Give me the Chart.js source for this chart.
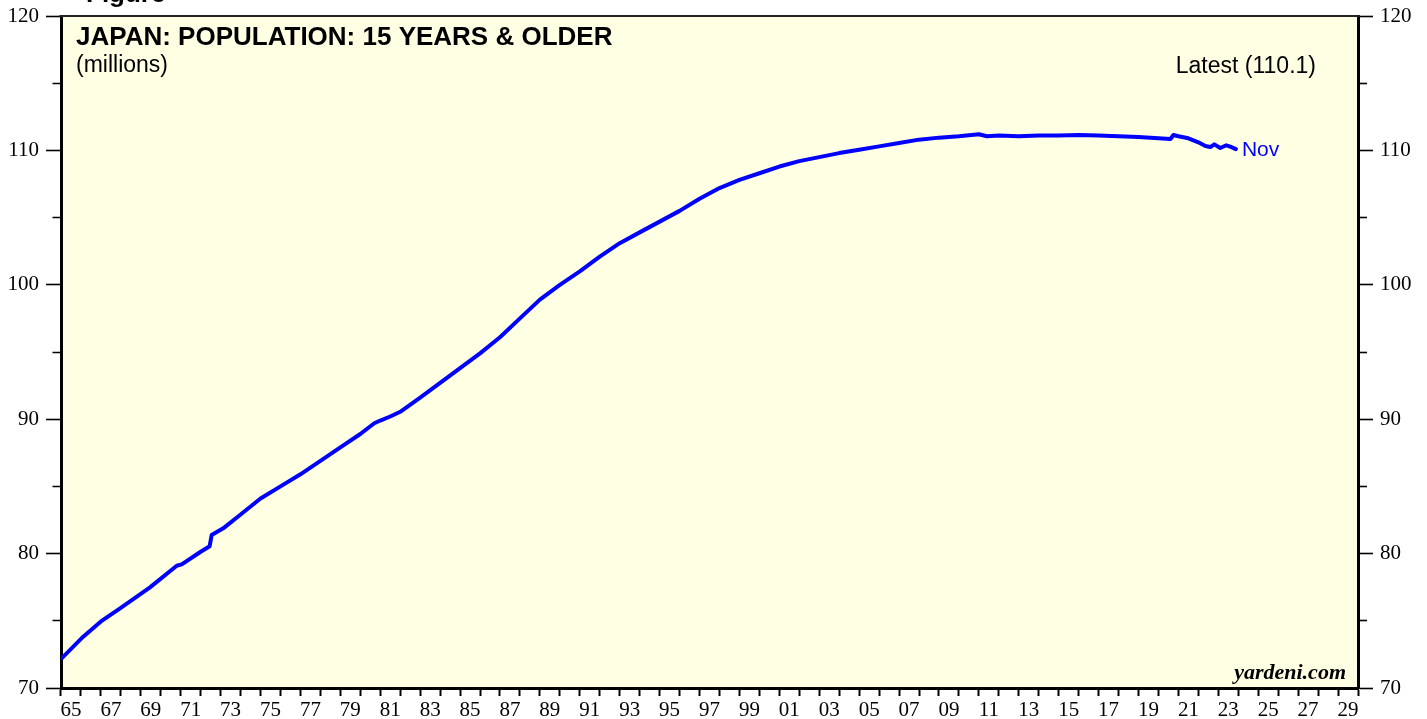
<!DOCTYPE html>
<html>
<head>
<meta charset="utf-8">
<script src="https://cdn.jsdelivr.net/npm/chart.js@4.4.1/dist/chart.umd.min.js"></script>
<style>
html,body{margin:0;padding:0;background:#ffffff;}
#wrap{width:1427px;height:719px;position:relative;}
canvas{display:block;}
</style>
</head>
<body>
<div id="wrap"><canvas id="c" width="1427" height="719"></canvas></div>
<script>
// ---- data ----
const years = [
  1965.03, 1966.1, 1967.0, 1967.96, 1969.46, 1970.8, 1971.05, 1972.0, 1972.45, 1972.55,
  1973.13, 1973.97, 1975.0, 1976.0, 1977.0, 1978.0, 1979.0, 1980.0, 1980.7, 1981.0,
  1981.5, 1982.0, 1983.0, 1984.0, 1985.0, 1986.0, 1987.0, 1988.0, 1989.0, 1990.0,
  1991.0, 1992.0, 1993.0, 1994.0, 1995.0, 1996.0, 1997.0, 1998.0, 1999.0, 2000.0,
  2001.0, 2002.0, 2003.0, 2004.0, 2005.0, 2006.0, 2007.0, 2008.0, 2009.0, 2010.0,
  2011.0, 2011.4, 2012.0, 2013.0, 2014.0, 2015.0, 2016.0, 2017.0, 2018.0, 2019.0,
  2020.0, 2020.6, 2020.75, 2021.0, 2021.5, 2022.0, 2022.35, 2022.6, 2022.8, 2023.1,
  2023.4, 2023.6, 2023.88
];
const population = [
  72.2, 73.8, 74.95, 75.93, 77.49, 79.1, 79.2, 80.14, 80.55, 81.38,
  81.88, 82.87, 84.1, 85.0, 85.9, 86.9, 87.9, 88.9, 89.7, 89.9,
  90.2, 90.55, 91.6, 92.7, 93.8, 94.9, 96.1, 97.5, 98.9, 100.0,
  101.0, 102.1, 103.1, 103.9, 104.7, 105.5, 106.4, 107.2, 107.8, 108.3,
  108.8, 109.2, 109.5, 109.8, 110.05, 110.3, 110.55, 110.8, 110.95, 111.05,
  111.2, 111.05, 111.1, 111.05, 111.1, 111.1, 111.15, 111.1, 111.05, 111.0,
  110.9, 110.85, 111.15, 111.05, 110.9, 110.6, 110.33, 110.25, 110.45, 110.18,
  110.38, 110.28, 110.1
];
const xTickLabels = ['65','67','69','71','73','75','77','79','81','83','85','87','89','91','93','95','97','99',
                     '01','03','05','07','09','11','13','15','17','19','21','23','25','27','29'];
const yMajorLabels = [70, 80, 90, 100, 110, 120];
const titleText = 'JAPAN: POPULATION: 15 YEARS & OLDER';
const unitText = '(millions)';
const latestText = 'Latest (110.1)';
const lastLabel = 'Nov';
const sourceText = 'yardeni.com';
const figureText = 'Figure';

// ---- chart ----
const SANS = "'Liberation Sans', Arial, Helvetica, sans-serif";
const SERIF = "'Liberation Serif', 'Times New Roman', Times, serif";
const X_START = 1965, X_END = 2030;

const decorPlugin = {
  id: 'decor',
  beforeDraw(chart) {
    const a = chart.chartArea, ctx = chart.ctx;
    ctx.save();
    ctx.fillStyle = '#ffffe4';
    ctx.fillRect(a.left, a.top, a.right - a.left, a.bottom - a.top);
    ctx.restore();
  },
  afterDraw(chart) {
    const a = chart.chartArea, ctx = chart.ctx;
    ctx.save();
    // top frame line
    ctx.strokeStyle = '#222';
    ctx.lineWidth = 2;
    ctx.beginPath();
    ctx.moveTo(a.left - 1.5, a.top);
    ctx.lineTo(a.right + 1.5, a.top);
    ctx.stroke();
    // texts
    ctx.fillStyle = '#000';
    ctx.textBaseline = 'alphabetic';
    ctx.textAlign = 'left';
    ctx.font = 'bold 26px ' + SANS;
    ctx.fillText(figureText, 86, 2);
    ctx.fillText(titleText, a.left + 15, a.top + 28.5);
    ctx.font = '23px ' + SANS;
    ctx.fillText(unitText, a.left + 15, a.top + 56);
    ctx.textAlign = 'right';
    ctx.fillText(latestText, 1316, a.top + 56.5);
    ctx.font = 'italic bold 22px ' + SERIF;
    ctx.fillText(sourceText, a.right - 12, a.bottom - 9);
    // last-value label
    const meta = chart.getDatasetMeta(0);
    const last = meta.data[meta.data.length - 1];
    ctx.fillStyle = '#0000ff';
    ctx.textAlign = 'left';
    ctx.textBaseline = 'middle';
    ctx.font = '21px ' + SANS;
    ctx.fillText(lastLabel, last.x + 6, last.y + 1);
    ctx.restore();
  }
};

const yTickCallback = v => (yMajorLabels.includes(v) ? String(v) : '');

new Chart(document.getElementById('c'), {
  type: 'line',
  data: {
    datasets: [{
      data: years.map((x, i) => ({ x: x, y: population[i] })),
      borderColor: '#0000ff',
      borderWidth: 4,
      pointRadius: 0,
      tension: 0,
      borderJoinStyle: 'round',
      borderCapStyle: 'round',
      fill: false
    }]
  },
  options: {
    responsive: false,
    devicePixelRatio: 1,
    animation: false,
    layout: { padding: { top: 16, left: 0, right: 0, bottom: 0 } },
    plugins: { legend: { display: false }, tooltip: { enabled: false }, title: { display: false } },
    scales: {
      x: {
        type: 'linear',
        position: 'bottom',
        min: X_START,
        max: X_END,
        afterBuildTicks: s => {
          const t = [];
          for (let yr = X_START; yr < X_END; yr++) t.push({ value: yr + 0.5 });
          s.ticks = t;
        },
        afterFit: s => { s.height = 31; },
        ticks: {
          autoSkip: false, maxRotation: 0, minRotation: 0, padding: 2, color: '#000',
          font: { family: SERIF, size: 21 },
          callback: v => {
            const k = (Math.floor(v) - X_START) / 2;
            return Number.isInteger(k) ? xTickLabels[k] : '';
          }
        },
        grid: { offset: true, drawOnChartArea: false, drawTicks: true, tickLength: 8, tickColor: '#000', tickWidth: 2 },
        border: { display: true, color: '#000', width: 3 }
      },
      y: {
        type: 'linear',
        position: 'left',
        min: 70, max: 120,
        afterFit: s => { s.width = 61; s.paddingTop = 0; s.paddingBottom = 0; },
        ticks: { stepSize: 5, padding: 7, color: '#000', font: { family: SERIF, size: 21, lineHeight: 1 }, callback: yTickCallback },
        grid: {
          drawOnChartArea: false, drawTicks: true, tickLength: 15, tickColor: '#000', tickWidth: 1.6,
          tickBorderDash: ctx => (ctx.tick && !yMajorLabels.includes(ctx.tick.value)) ? [0, 6.5, 30, 0] : []
        },
        border: { display: true, color: '#000', width: 3 }
      },
      y2: {
        type: 'linear',
        position: 'right',
        min: 70, max: 120,
        afterFit: s => { s.width = 69; s.paddingTop = 0; s.paddingBottom = 0; },
        ticks: { stepSize: 5, padding: 7, color: '#000', font: { family: SERIF, size: 21, lineHeight: 1 }, callback: yTickCallback },
        grid: {
          drawOnChartArea: false, drawTicks: true, tickLength: 15, tickColor: '#000', tickWidth: 1.6,
          tickBorderDash: ctx => (ctx.tick && !yMajorLabels.includes(ctx.tick.value)) ? [7, 30] : []
        },
        border: { display: true, color: '#000', width: 3 }
      }
    }
  },
  plugins: [decorPlugin]
});
</script>
</body>
</html>
